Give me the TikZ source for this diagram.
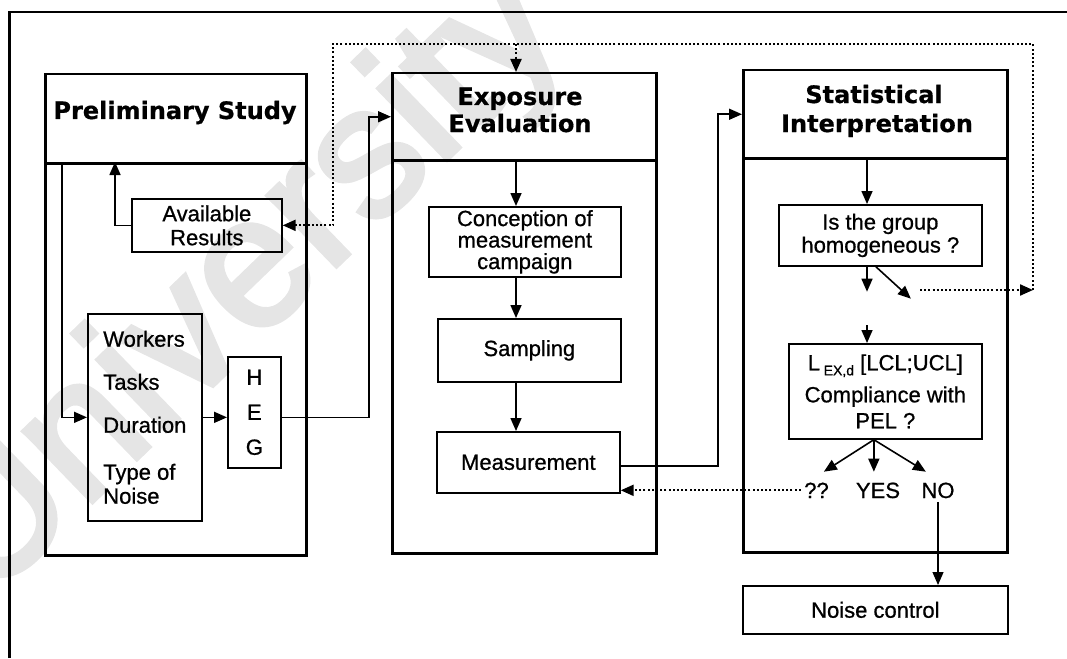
\documentclass[tikz,border=0pt]{standalone}
\usepackage{fontspec}
\setmainfont{Liberation Sans}
\newfontfamily\bodyfont{Liberation Sans}[FakeBold=0.8]
\newfontfamily\headfont{DejaVu Sans}[FakeBold=0.6]
\newfontfamily\markfont{Liberation Sans}[FakeBold=3]
\usetikzlibrary{arrows.meta,calc}

\newcommand\bodytext{\bodyfont\fontsize{22}{24}\selectfont}
\newcommand\headtext{\headfont\bfseries\fontsize{24}{27}\selectfont}

\begin{document}
\begin{tikzpicture}[x=1pt,y=-1pt,
  frameline/.style={line width=2.6pt},
  panel/.style={draw,line width=2.5pt,anchor=north west,inner sep=0pt},
  box/.style={draw,line width=1.7pt,anchor=north west,inner sep=0pt,align=center,font=\bodytext},
  title/.style={anchor=base,inner sep=0pt,font=\headtext},
  lbl/.style={anchor=base,font=\bodytext},
  tip/.style={-{Triangle[length=13pt,width=11pt]}},
  arr/.style={line width=1.6pt,tip},
  thinarr/.style={line width=1.1pt,tip},
  dots/.style={line width=2.2pt,dash pattern=on 2pt off 2.2pt},
  dotarr/.style={dots,tip},
]
\useasboundingbox (0,0) rectangle (1067,658);

% faint background lettering
\begin{scope}
  \clip (0,0) rectangle (1067,658);
  \node[rotate=44,anchor=base west,inner sep=0pt,text=black!10,
        font=\markfont\fontsize{185}{185}\selectfont] (wm) at (-13,603) {University of};
\end{scope}

% outer frame
\coordinate (fbl) at (9.5,658);
\coordinate (ftl) at (9.5,12);
\coordinate (ftr) at (1067,12);
\draw[frameline] (fbl) -- (ftl) -- (ftr);

% ---------- Preliminary Study ----------
\node[panel,minimum width=261pt,minimum height=89pt]  (preH) at (44,73) {};
\node[panel,minimum width=261pt,minimum height=392pt] (preB) at (44,162) {};
\node[title] (preT) at (175,119) {Preliminary Study};

\node[box,minimum width=150pt,minimum height=53pt] (avail) at (131,198) {Available\\Results};
\node[box,align=left,minimum width=114pt,minimum height=207pt] (work) at (87,313)
  {Workers\\[19pt]Tasks\\[19pt]Duration\\[23pt]Type of\\Noise};
\node[box,minimum width=53pt,minimum height=111pt] (heg) at (227,356) {H\\[11pt]E\\[11pt]G};

% ---------- Exposure Evaluation ----------
\node[panel,minimum width=264pt,minimum height=87pt]  (expH) at (391,72) {};
\node[panel,minimum width=264pt,minimum height=393pt] (expB) at (391,159) {};
\node[title] (expT1) at (520,105) {Exposure};
\node[title] (expT2) at (520,132) {Evaluation};

\node[box,minimum width=192pt,minimum height=70pt,font=\bodyfont\fontsize{22}{21.5}\selectfont] (concept) at (428,206)
  {Conception of\\measurement\\campaign};
\node[box,minimum width=183pt,minimum height=63pt] (samp) at (437,318) {Sampling};
\node[box,minimum width=183pt,minimum height=61pt] (meas) at (436,431) {Measurement};

% ---------- Statistical Interpretation ----------
\node[panel,minimum width=264pt,minimum height=88pt]  (staH) at (742,69) {};
\node[panel,minimum width=264pt,minimum height=394pt] (staB) at (742,157) {};
\node[title] (staT1) at (874,103) {Statistical};
\node[title] (staT2) at (877,132) {Interpretation};

\node[box,minimum width=203pt,minimum height=61pt,font=\bodyfont\fontsize{22}{23}\selectfont] (homog) at (778,204)
  {Is the group\\homogeneous ?};
\node[box,minimum width=193pt,minimum height=95pt] (compl) at (788,343)
  {L\,\raisebox{-5pt}{\fontsize{14}{14}\selectfont EX,d} [LCL;UCL]\\[8pt]Compliance with\\[2pt]PEL ?};

\node[lbl] (q)   at (816.5,498) {??};
\node[lbl] (yes) at (878,498) {YES};
\node[lbl] (no)  at (938,498) {NO};

\node[box,minimum width=265pt,minimum height=48pt] (noise) at (742,585) {Noise control};

% ---------- connectors ----------
\coordinate (preS1) at (115,162);
\coordinate (preS2) at (62,162);
\draw[arr] (avail.west) -| (preS1);
\draw[arr] (preS2) |- (work.west);
\draw[arr] (work.east) -- (work.east -| heg.west);
\coordinate (hegOut) at (heg.east |- work.east);
\draw[arr] (hegOut) -- ++(87,0) |- (expH.west);

\coordinate (ex) at (516,0);
\draw[arr] (expH.south -| ex) -- (concept.north -| ex);
\draw[arr] (concept.south -| ex) -- (samp.north -| ex);
\draw[arr] (samp.south -| ex) -- (meas.north -| ex);
\draw[arr] ($(meas.east)+(0,3.5)$) -- ++(97,0) |- (staH.west);

\coordinate (sx) at (867,0);
\draw[arr] (staH.south -| sx) -- (homog.north -| sx);
\draw[arr] (homog.south -| sx) -- ++(0,25);
\draw[arr] ($(homog.south)+(-4.5,0)$) -- ++(35,32);
\draw[arr] ($(compl.north -| sx)+(0,-18)$) -- (compl.north -| sx);

\coordinate (cs) at ($(compl.south)+(-11.5,0)$);
\draw[arr] (cs) -- ++(-50,32);
\draw[arr] (cs) -- ++(0,32);
\draw[arr] (cs) -- ++(52,32);
\draw[thinarr] (no.south) -- (no.south |- noise.north);

% feedback paths
\coordinate (hn)    at (920,290);
\coordinate (loopR) at (1033,290);
\coordinate (loopL) at (333,44);
\draw[dotarr] (hn) -- (loopR);
\draw[dotarr] (loopR) |- (loopL) |- (avail.east);
\draw[dotarr] (loopL -| ex) -- (expH.north -| ex);
\draw[dotarr] (q.west) -- (q.west -| meas.east);
\end{tikzpicture}
\end{document}
